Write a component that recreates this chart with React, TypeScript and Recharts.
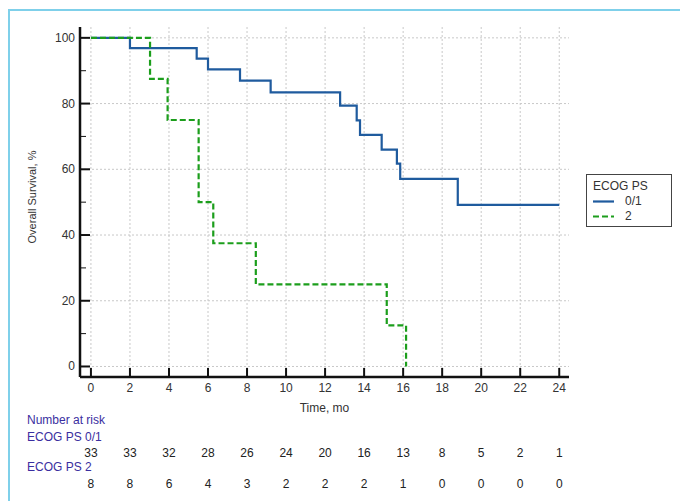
import React from "react"
import {
  CartesianGrid,
  Legend,
  Line,
  LineChart,
  XAxis,
  YAxis,
} from "recharts"

// Kaplan-Meier curves (months, % surviving)
const psGoodTimes = [0, 2.0, 5.42, 6.0, 7.64, 9.21, 12.77, 13.62, 13.79, 14.9, 15.68, 15.85, 18.8, 24]
const psGoodSurv = [100, 96.9, 93.7, 90.4, 87.0, 83.4, 79.4, 74.9, 70.5, 66.0, 61.7, 57.1, 49.2, 49.2]
const psPoorTimes = [0, 3.03, 3.93, 5.52, 6.27, 8.45, 15.16, 16.15]
const psPoorSurv = [100, 87.5, 75, 50, 37.5, 25, 12.5, 0]

const seriesNames = ["0/1", "2"]
const legendTitle = "ECOG PS"

const xTicks = [0, 2, 4, 6, 8, 10, 12, 14, 16, 18, 20, 22, 24]
const yTicks = [0, 10, 20, 30, 40, 50, 60, 70, 80, 90, 100]
const yGrid = [0, 20, 40, 60, 80, 100]

// number at risk under each x tick
const riskGood = [33, 33, 32, 28, 26, 24, 20, 16, 13, 8, 5, 2, 1]
const riskPoor = [8, 8, 6, 4, 3, 2, 2, 2, 1, 0, 0, 0, 0]

const goodData = psGoodTimes.map((t, i) => ({ t, s: psGoodSurv[i] }))
const poorData = psPoorTimes.map((t, i) => ({ t, s: psPoorSurv[i] }))

const BLUE = "#1f5b9e"
const GREEN = "#1c9e1c"
const LABEL = "#3a2ea0"
const FONT = "'Liberation Sans', Arial, sans-serif"

function XTick(props: any) {
  const { x, y, payload } = props
  const i = xTicks.indexOf(payload.value)
  const axisY = y - 5
  return (
    <g>
      <line x1={x} x2={x} y1={axisY} y2={axisY - 9} stroke="#111" strokeWidth={2} />
      <text x={x} y={y + 6} textAnchor="middle" dominantBaseline="central" fontSize={12} fill="#333">
        {payload.value}
      </text>
      <text x={x} y={y + 71} textAnchor="middle" dominantBaseline="central" fontSize={12} fill="#222">
        {riskGood[i]}
      </text>
      <text x={x} y={y + 102} textAnchor="middle" dominantBaseline="central" fontSize={12} fill="#222">
        {riskPoor[i]}
      </text>
    </g>
  )
}

function YTick(props: any) {
  const { x, y, payload } = props
  const axisX = x + 5
  const major = payload.value % 20 === 0
  return (
    <g>
      <line
        x1={axisX}
        x2={axisX + (major ? 10 : 6)}
        y1={y}
        y2={y}
        stroke="#111"
        strokeWidth={major ? 2 : 1}
      />
      {major && (
        <text x={x} y={y} textAnchor="end" dominantBaseline="central" fontSize={12} fill="#333">
          {payload.value}
        </text>
      )}
    </g>
  )
}

function LegendBox() {
  const rows = [
    { name: seriesNames[0], color: BLUE, dash: undefined },
    { name: seriesNames[1], color: GREEN, dash: "6 3" },
  ]
  return (
    <div
      style={{
        border: "1px solid #444",
        width: 86,
        height: 53,
        boxSizing: "border-box",
        padding: "4px 0 0 6px",
        fontSize: 12,
        color: "#333",
        lineHeight: "15px",
        background: "#fff",
        textAlign: "left",
      }}
    >
      <div>{legendTitle}</div>
      {rows.map((r) => (
        <div key={r.name} style={{ display: "flex", alignItems: "center" }}>
          <svg width={24} height={15}>
            <line x1={0} x2={21} y1={7.5} y2={7.5} stroke={r.color} strokeWidth={2.2} strokeDasharray={r.dash} />
          </svg>
          <span style={{ marginLeft: 8 }}>{r.name}</span>
        </div>
      ))}
    </div>
  )
}

export default function App() {
  return (
    <div
      style={{
        position: "absolute",
        left: 0,
        top: 0,
        width: 680,
        height: 501,
        background: "#fff",
        fontFamily: FONT,
        overflow: "hidden",
      }}
    >
      <div
        style={{
          position: "absolute",
          left: 8,
          top: 9,
          right: -10,
          bottom: -10,
          borderLeft: "2px solid #7fd0ea",
          borderTop: "2px solid #7fd0ea",
        }}
      />
      <LineChart
        width={680}
        height={501}
        margin={{ top: 27, right: 111, bottom: 82, left: 0 }}
        style={{ position: "absolute", left: 0, top: 0, fontFamily: FONT }}
      >
        <CartesianGrid
          stroke="#c8c8c8"
          strokeDasharray="2 2"
          horizontalValues={yGrid}
          verticalValues={xTicks}
        />
        <XAxis
          type="number"
          dataKey="t"
          domain={[-0.56, 24.5]}
          ticks={xTicks}
          allowDataOverflow
          height={42}
          tickSize={0}
          tickMargin={5}
          tick={<XTick />}
          axisLine={{ stroke: "#111", strokeWidth: 2.5 }}
          interval={0}
          label={{ value: "Time, mo", position: "insideBottom", offset: 7, fontSize: 12, fill: "#333" }}
        />
        <YAxis
          type="number"
          domain={[-3.2, 103.3]}
          ticks={yTicks}
          allowDataOverflow
          width={80}
          tickSize={0}
          tickMargin={5}
          tick={<YTick />}
          axisLine={{ stroke: "#111", strokeWidth: 2.5 }}
          interval={0}
        />
        <Line
          data={goodData}
          dataKey="s"
          name={seriesNames[0]}
          type="stepAfter"
          stroke={BLUE}
          strokeWidth={2.2}
          dot={false}
          isAnimationActive={false}
        />
        <Line
          data={poorData}
          dataKey="s"
          name={seriesNames[1]}
          type="stepAfter"
          stroke={GREEN}
          strokeWidth={2.2}
          strokeDasharray="6 3"
          dot={false}
          isAnimationActive={false}
        />
        <Legend
          layout="horizontal"
          align="center"
          verticalAlign="middle"
          content={<LegendBox />}
          wrapperStyle={{ left: 586, top: 174, width: 86 }}
        />
      </LineChart>
      <div
        style={{
          position: "absolute",
          left: 32,
          top: 197,
          transform: "translate(-50%, -50%) rotate(-90deg)",
          whiteSpace: "nowrap",
          fontSize: 11,
          color: "#333",
        }}
      >
        Overall Survival, %
      </div>
      {[
        { text: "Number at risk", y: 420 },
        { text: "ECOG PS 0/1", y: 437 },
        { text: "ECOG PS 2", y: 467 },
      ].map((r) => (
        <div
          key={r.text}
          style={{
            position: "absolute",
            left: 27,
            top: r.y - 8,
            lineHeight: "16px",
            fontSize: 12,
            color: LABEL,
          }}
        >
          {r.text}
        </div>
      ))}
    </div>
  )
}
